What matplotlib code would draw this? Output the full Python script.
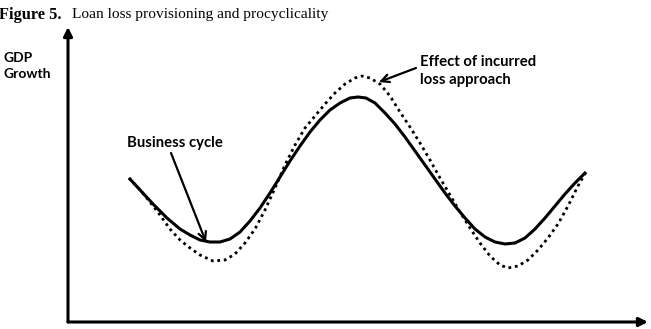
#!/usr/bin/env python
# -*- coding: utf-8 -*-

"""Figure 5: loan loss provisioning and procyclicality (schematic)."""

import matplotlib
matplotlib.use("Agg")
import matplotlib.pyplot as plt

# Time axis (arbitrary units, left to right)
cycle_time = [129, 141, 153, 167, 180, 190, 200, 210, 220, 230, 240, 250, 260,
              270, 280, 290, 300, 310, 320, 330, 340, 350, 358, 366, 375, 385,
              395, 405, 415, 425, 435, 445, 455, 465, 475, 485, 495, 505, 515,
              525, 535, 545, 555, 565, 575, 586]
# GDP growth along the business cycle (arbitrary units above the time axis)
cycle_growth = [144, 131, 118, 104, 93, 87, 82, 80, 80, 83, 90, 101, 114,
                129, 145, 161, 176, 190, 202, 212, 219, 224, 225, 224, 219, 209,
                198, 185, 171, 157, 143, 129, 116, 104, 93, 85, 80, 78, 79,
                84, 93, 104, 116, 128, 139, 150]

# GDP growth with the incurred loss approach (amplified swings)
incurred_time = [129, 141, 150, 160, 170, 180, 190, 200, 213, 225, 235, 245,
                 255, 265, 275, 285, 295, 305, 315, 325, 335, 345, 355, 362,
                 370, 380, 390, 400, 410, 420, 430, 440, 450, 460, 470, 480,
                 490, 500, 508, 518, 528, 538, 548, 558, 568, 578, 586]
incurred_growth = [144, 131, 120, 107, 93, 82, 74, 67, 61, 62, 68, 79,
                   93, 112, 134, 157, 177, 194, 206, 218, 229, 238, 244, 246,
                   244, 238, 226, 210, 195, 179, 162, 144, 127, 110, 94, 79,
                   66, 57, 54, 56, 62, 72, 84, 98, 116, 136, 150]

# Axis ends and annotation anchors
origin = (68, 0)
y_axis_top = 295
x_axis_end = 648
business_label = "Business cycle"
effect_label = "Effect of incurred\nloss approach"
ylabel_text = "GDP\nGrowth"

LABEL_FONT = ["Lato", "DejaVu Sans"]
TITLE_FONT = ["Liberation Serif", "DejaVu Serif"]


def draw_axes(ax):
    """Draw the two arrowed axes"""
    arrow = dict(arrowstyle="-|>", lw=2.2, color="black",
                 mutation_scale=13, shrinkA=0, shrinkB=0)
    ax.annotate("", xy=(origin[0], y_axis_top), xytext=origin, arrowprops=arrow)
    ax.annotate("", xy=(x_axis_end, origin[1]), xytext=origin, arrowprops=arrow)


def draw_curves(ax):
    """Draw the business cycle and the incurred loss curve"""
    ax.plot(incurred_time, incurred_growth, color="black", lw=2.0,
            linestyle=(0, (1, 1.35)), dash_capstyle="butt", zorder=2)
    ax.plot(cycle_time, cycle_growth, color="black", lw=2.2,
            solid_capstyle="butt", solid_joinstyle="round", zorder=3)


def draw_labels(ax, fig):
    """Texts and pointer arrows"""
    pointer = dict(arrowstyle="->", lw=1.6, color="black",
                   mutation_scale=14, shrinkA=0, shrinkB=0)

    ax.text(3, 270, ylabel_text, family=LABEL_FONT, fontweight="bold",
            fontsize=10, ha="left", va="top", linespacing=1.35)

    ax.text(175, 179, business_label, family=LABEL_FONT, fontweight="bold",
            fontsize=10.7, ha="center", va="center")
    ax.annotate("", xy=(206, 80), xytext=(171, 169), arrowprops=pointer)

    ax.text(420, 251, effect_label, family=LABEL_FONT, fontweight="bold",
            fontsize=10.7, ha="left", va="center", linespacing=1.4)
    ax.annotate("", xy=(379, 240), xytext=(416, 254), arrowprops=pointer)

    fig.text(-0.002, 0.955, "Figure 5.", family=TITLE_FONT, fontweight="bold",
             fontsize=11.8, ha="left", va="center")
    fig.text(72 / 651, 0.955, "Loan loss provisioning and procyclicality",
             family=TITLE_FONT, fontsize=11.1, ha="left", va="center")


def main():
    """Main function"""
    fig = plt.figure(figsize=(6.51, 3.29), dpi=100)
    ax = fig.add_axes([0, 0, 1, 1])
    ax.set_xlim(0, 651)
    ax.set_ylim(-7, 322)
    ax.axis("off")

    draw_axes(ax)
    draw_curves(ax)
    draw_labels(ax, fig)

    fig.savefig("out.png", dpi=100, facecolor="white")
    plt.close(fig)


if __name__ == "__main__":
    main()
